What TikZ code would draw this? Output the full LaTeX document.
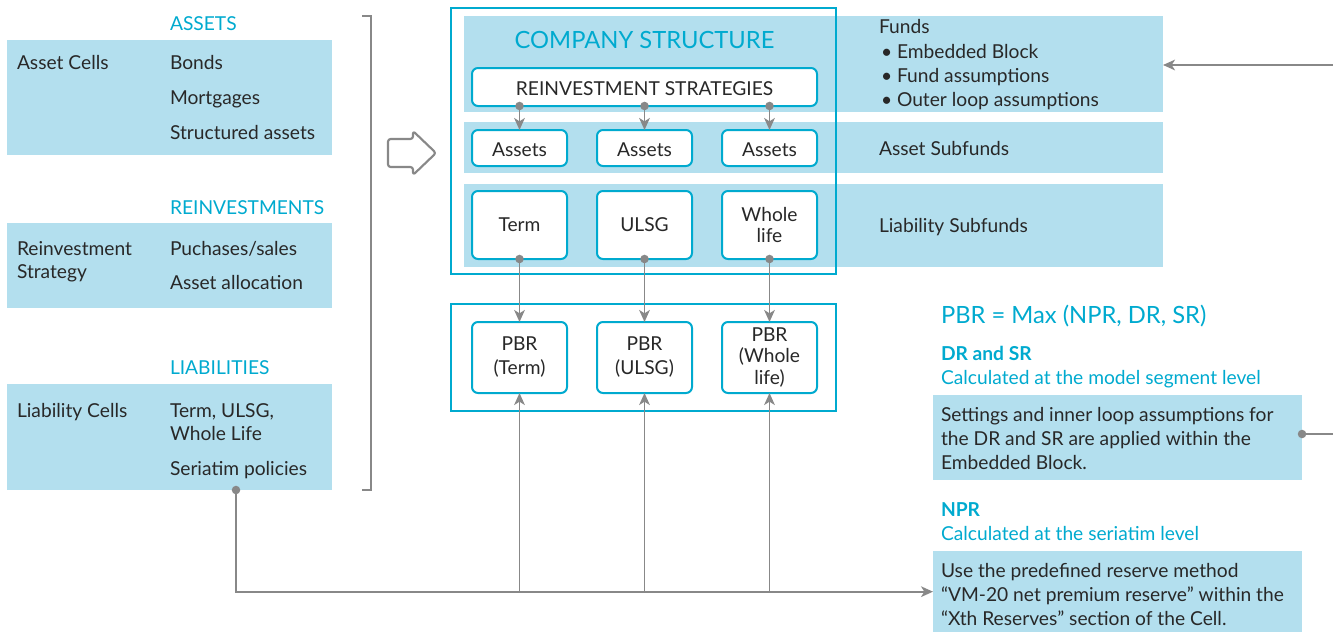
\documentclass[tikz,border=0pt]{standalone}
\usepackage{fontspec}
\setmainfont{Lato}
\usetikzlibrary{arrows.meta}
\definecolor{lb}{RGB}{179,223,238}
\definecolor{cy}{RGB}{0,170,207}
\definecolor{gr}{RGB}{136,136,136}
\definecolor{tx}{RGB}{40,40,40}
\begin{document}
\begin{tikzpicture}[x=0.75pt,y=-0.75pt,
  every node/.style={inner sep=0pt, outer sep=0pt, text=tx},
  fs/.style={font=\fontsize{14.4}{18}\selectfont},
  band/.style={fill=lb, draw=none, anchor=north west},
  t/.style={fs, anchor=base west},
  head/.style={t, text=cy},
  big/.style={font=\fontsize{17.8}{20}\selectfont, text=cy},
  bhead/.style={head, font=\fontsize{14.4}{18}\selectfont\bfseries},
  rbox/.style={draw=cy, fill=white, line width=1.5pt, rounded corners=4.5pt, anchor=north west, fs, align=center},
  lowtext/.style={text height=13pt},
  obox/.style={draw=cy, line width=1.75pt, anchor=north west},
  conn/.style={draw=gr, line width=1.4pt},
  arr/.style={conn, -{Stealth[length=9pt,width=8pt,inset=2.5pt]}},
]
\useasboundingbox (0,0) rectangle (1333,632);

% ---------- left column ----------
\node[band, minimum width=243.75pt, minimum height=86.25pt] (assetsbox) at (7,40) {};
\node[head] (hassets) at (170,30) {ASSETS};
\node[t] (ac) at (17,69) {Asset Cells};
\node[t] (bonds) at (170,69) {Bonds};
\node[t] (mort) at (170,104) {Mortgages};
\node[t] (struct) at (170,139) {Structured assets};

\node[band, minimum width=243.75pt, minimum height=63.75pt] (reinvbox) at (7,223) {};
\node[head] (hreinv) at (170,214) {REINVESTMENTS};
\node[t] (rs1) at (17,255) {Reinvestment};
\node[t] (rs2) at (17,278) {Strategy};
\node[t] (ps) at (170,255) {Puchases/sales};
\node[t] (aa) at (170,289) {Asset allocation};

\node[band, minimum width=243.75pt, minimum height=79.5pt] (liabbox) at (7,384) {};
\node[head] (hliab) at (170,374) {LIABILITIES};
\node[t] (lc1) at (17,417) {Liability Cells};
\node[t] (tu1) at (170,417) {Term, ULSG,};
\node[t] (tu2) at (170,440) {Whole Life};
\node[t] (sp) at (170,475) {Seriatim policies};

% bracket and block arrow
\draw[gr, line width=1.4pt] (362,16) -- (371,16) -- (371,490) -- (362,490);
\draw[gr, line width=1.6pt, rounded corners=2pt, line join=round]
  (388,139) -- (413,139) -- (413,131) -- (436,153) -- (413,175) -- (413,167) -- (388,167) -- cycle;

% ---------- company structure ----------
\node[band, minimum width=524.25pt, minimum height=72pt] (band1) at (464,16) {};
\node[band, minimum width=524.25pt, minimum height=38.25pt] (band2) at (464,122) {};
\node[band, minimum width=524.25pt, minimum height=62.25pt] (band3) at (464,184) {};
\node[obox, minimum width=288.75pt, minimum height=199.5pt] (cs) at (451,8) {};
\node[big, anchor=base] (cst) at (644.5,48) {COMPANY STRUCTURE};
\node[rbox, lowtext, minimum width=258.75pt, minimum height=28.5pt] (rs) at (472,68) {REINVESTMENT STRATEGIES};

\node[rbox, lowtext, minimum width=71.25pt, minimum height=27pt] (a1) at (472,130) {Assets};
\node[rbox, lowtext, minimum width=71.25pt, minimum height=27pt] (a2) at (597,130) {Assets};
\node[rbox, lowtext, minimum width=71.25pt, minimum height=27pt] (a3) at (722,130) {Assets};

\node[rbox, minimum width=71.25pt, minimum height=51pt] (l1) at (472,191) {Term};
\node[rbox, minimum width=71.25pt, minimum height=51pt] (l2) at (597,191) {ULSG};
\node[rbox, minimum width=71.25pt, minimum height=51pt, font=\fontsize{14.4}{15.5}\selectfont] (l3) at (722,191) {Whole\\life};

\node[obox, minimum width=288.75pt, minimum height=80.25pt] (pbro) at (451,304) {};
\node[rbox, minimum width=71.25pt, minimum height=53.25pt] (p1) at (472,322) {PBR\\(Term)};
\node[rbox, minimum width=71.25pt, minimum height=53.25pt] (p2) at (597,322) {PBR\\(ULSG)};
\node[rbox, minimum width=71.25pt, minimum height=53.25pt, font=\fontsize{14.4}{16}\selectfont] (p3) at (722,322) {PBR\\(Whole\\life)};

% right labels in bands
\node[t] (funds) at (879,33) {Funds};
\node[t] (b1) at (881,58) {•};
\node[t] (f1) at (897,58) {Embedded Block};
\node[t] (b2) at (881,82) {•};
\node[t] (f2) at (897,82) {Fund assumptions};
\node[t] (b3) at (881,106) {•};
\node[t] (f3) at (897,106) {Outer loop assumptions};
\node[t] (asf) at (879,155) {Asset Subfunds};
\node[t] (lsf) at (879,232) {Liability Subfunds};

% ---------- right column ----------
\node[big, anchor=base west] (pbr) at (941,323) {PBR = Max (NPR, DR, SR)};
\node[bhead] (drh) at (941,360) {DR and SR};
\node[head] (drc) at (941,384) {Calculated at the model segment level};
\node[band, minimum width=276.75pt, minimum height=63.75pt] (dr) at (933,395) {};
\node[t] (d1) at (941,421) {Settings and inner loop assumptions for};
\node[t] (d2) at (941,445) {the DR and SR are applied within the};
\node[t] (d3) at (941,469) {Embedded Block.};

\node[bhead] (nprh) at (941,516) {NPR};
\node[head] (nprc) at (941,540) {Calculated at the seriatim level};
\node[band, minimum width=276.75pt, minimum height=61pt] (npr) at (933,551) {};
\node[t] (n1) at (941,577) {Use the predefined reserve method};
\node[t] (n2) at (941,601) {“VM-20 net premium reserve” within the};
\node[t] (n3) at (941,625) {“Xth Reserves” section of the Cell.};

% ---------- connectors ----------
\foreach \i in {1,2,3}{
  \draw[arr] (rs.south -| a\i.north) -- (a\i.north);
  \fill[gr] (rs.south -| a\i.north) circle (3.2pt);
  \draw[arr] (l\i.south) -- (p\i.north);
  \fill[gr] (l\i.south) circle (3.2pt);
  \draw[arr] (p\i.south |- npr.west) -- (p\i.south);
}
\coordinate (lc) at (236,490);
\draw[arr] (lc) |- (npr.west);
\fill[gr] (lc) circle (3.2pt);

\coordinate (e1) at (1333,434);
\draw[conn] (dr.east |- e1) -- (e1);
\fill[gr] (dr.east |- e1) circle (3.2pt);
\coordinate (e2) at (1333,65);
\draw[arr] (e2) -- (band1.east |- e2);
\end{tikzpicture}
\end{document}
